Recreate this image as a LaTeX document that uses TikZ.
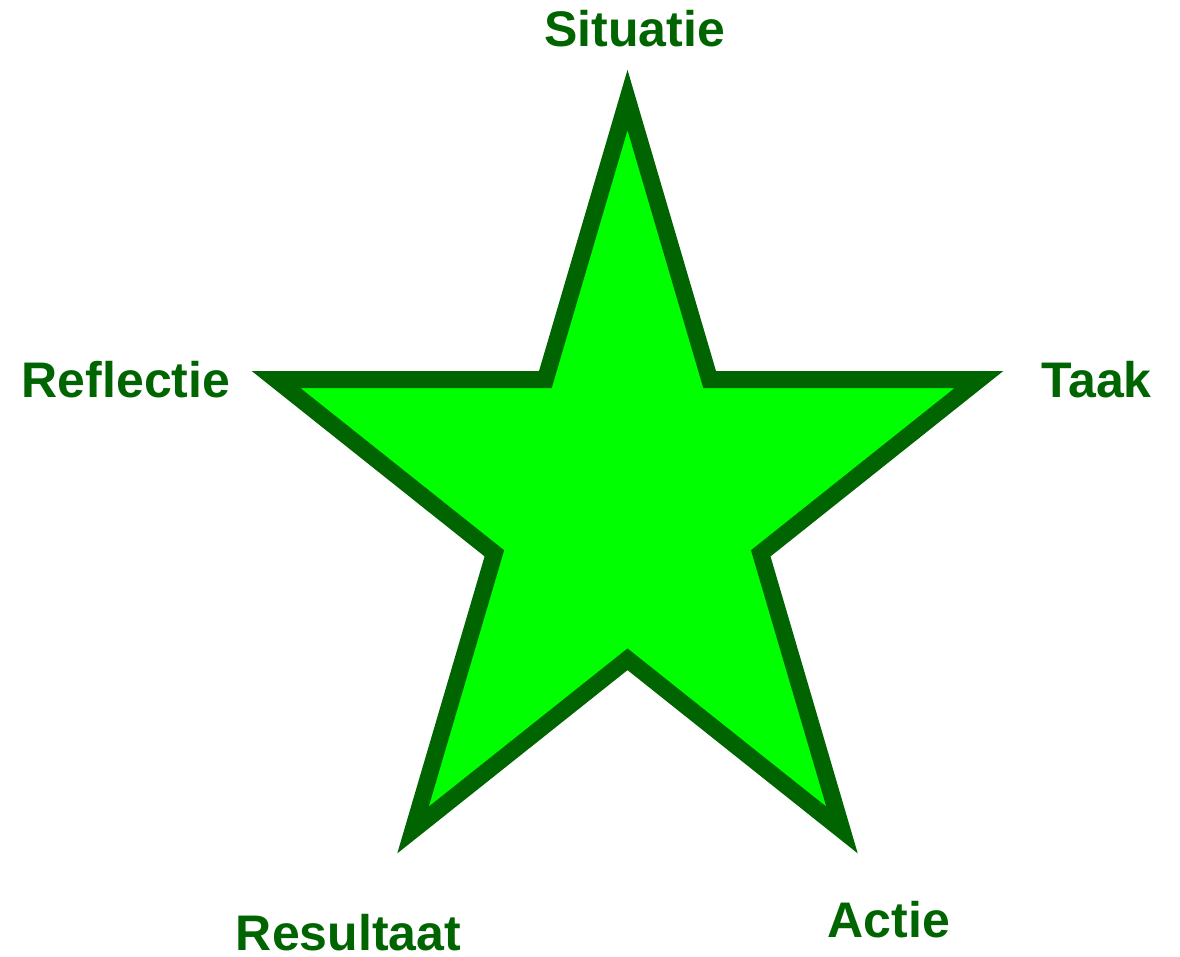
\documentclass[tikz,border=0pt]{standalone}
\usepackage{fontspec}
\setmainfont{Liberation Sans}
\usetikzlibrary{calc}
\definecolor{darkgr}{RGB}{0,100,0}
\definecolor{brightgr}{RGB}{0,255,0}
\begin{document}
\begin{tikzpicture}[x=1pt,y=-1pt,
  lbl/.style={text=darkgr, font=\fontsize{50}{60}\selectfont\bfseries, inner sep=0pt, text depth=0pt, anchor=base},
  starshape/.style={draw=darkgr, fill=brightgr, line width=17pt, line join=miter}]
\useasboundingbox (0,0) rectangle (1180,957);
\coordinate (T) at (627.5,100);
\coordinate (L) at (276,379.5);
\coordinate (R) at (979,379.5);
\coordinate (BL) at (413,830);
\coordinate (BR) at (842,830);
\coordinate (IUL) at (intersection of T--BL and L--R);
\coordinate (IUR) at (intersection of T--BR and L--R);
\coordinate (ILR) at (intersection of R--BL and T--BR);
\coordinate (IB) at (intersection of L--BR and R--BL);
\coordinate (ILL) at (intersection of L--BR and T--BL);
\draw[starshape] (T) -- (IUR) -- (R) -- (ILR) -- (BR) -- (IB) -- (BL) -- (ILL) -- (L) -- (IUL) -- cycle;
\node[lbl] (sit) at (634.5,47) {Situatie};
\node[lbl] (taak) at (1096.5,397.5) {Taak};
\node[lbl] (actie) at (889,937.5) {Actie};
\node[lbl] (refl) at (126,397) {Reflectie};
\node[lbl] (res) at (348.5,950) {Resultaat};
\end{tikzpicture}
\end{document}
